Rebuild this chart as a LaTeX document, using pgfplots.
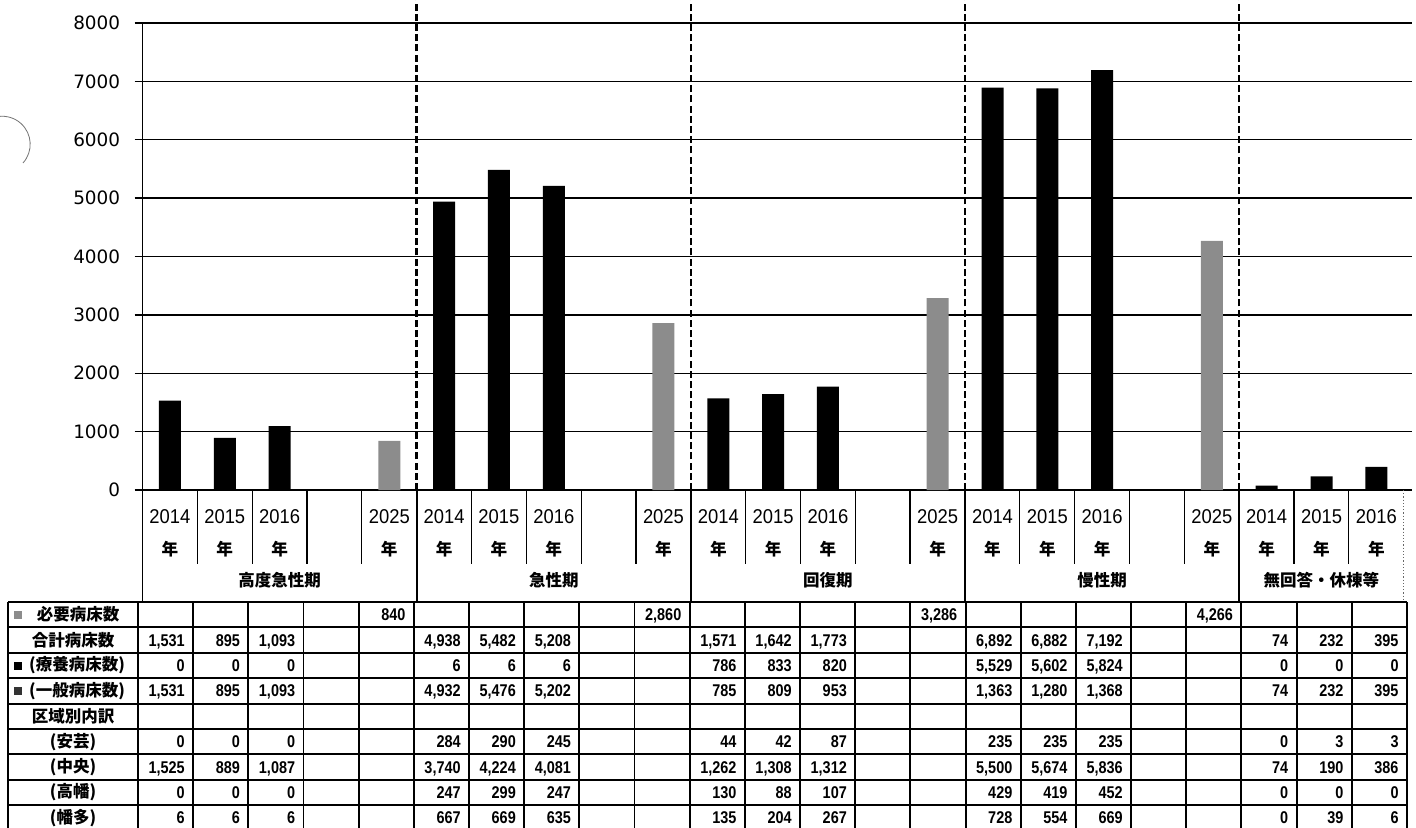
\documentclass[border=0pt]{standalone}
\usepackage{pgfplots}
\pgfplotsset{compat=1.18}
\usepackage{fontspec}
\setmainfont{DejaVu Sans}
\newfontfamily\jp{Noto Sans CJK JP}
\newfontfamily\numf[FakeStretch=0.85]{Liberation Sans}
\newfontfamily\yearf[FakeStretch=0.92]{Liberation Sans}

\newcommand\nen{{\jp\bfseries\fontsize{8.3}{16}\selectfont 年}}
\newcommand\jpfont{\jp\bfseries\fontsize{8.25}{10}\selectfont}
\newcommand\tabfont{\numf\bfseries\fontsize{8.5}{10}\selectfont}

% one row of the table: #1 = row index, #2 = the 23 cell values
\newcommand\tabrow[2]{%
  \foreach \v [count=\i from 1] in {#2} {%
    \node[anchor=base east, inner sep=0pt, font=\tabfont]
      at ({138+55.17*\i-8}, {602+25.4*#1+12.7+6}) {\v};
  }%
}

\begin{document}
\begin{tikzpicture}
\begin{axis}[
  at={(71.25pt,-245pt)}, anchor=south west,
  scale only axis, width=634.75pt, height=233.5pt,
  xmin=-0.5, xmax=22.65, ymin=0, ymax=8000,
  axis x line=bottom, axis y line=left,
  axis line style={-},
  x axis line style={line width=1pt},
  y axis line style={line width=0.5pt},
  ytick={0,1000,...,8000},
  scaled y ticks=false,
  /pgf/number format/1000 sep={},
  /pgf/number format/assume math mode=true,
  yticklabel style={font=\fontsize{9.2}{10}\selectfont, inner sep=0pt, xshift=-7pt},
  tick align=outside, major tick length=4pt,
  ytick style={black, line width=0.65pt},
  ymajorgrids, grid style={black, line width=0.65pt},
  xtick={0,...,22},
  xtick style={draw=none},
  xticklabels={{2014\\\nen},{2015\\\nen},{2016\\\nen},{},{2025\\\nen},
               {2014\\\nen},{2015\\\nen},{2016\\\nen},{},{2025\\\nen},
               {2014\\\nen},{2015\\\nen},{2016\\\nen},{},{2025\\\nen},
               {2014\\\nen},{2015\\\nen},{2016\\\nen},{},{2025\\\nen},
               {2014\\\nen},{2015\\\nen},{2016\\\nen}},
  xticklabel style={font=\yearf\fontsize{10}{16}\selectfont, align=center,
                    anchor=north, inner sep=0pt, yshift=-5.5pt},
  clip=false,
]
% 合計病床数 (2014-2016)
\addplot[ybar, bar width=11pt, bar shift=0pt, fill=black, draw=none]
  coordinates {(0,1531) (1,895) (2,1093)
               (5,4938) (6,5482) (7,5208)
               (10,1571) (11,1642) (12,1773)
               (15,6892) (16,6882) (17,7192)
               (20,74) (21,232) (22,395)};
% 必要病床数 (2025)
\addplot[ybar, bar width=11pt, bar shift=0pt, fill=black!45, draw=none]
  coordinates {(4,840) (9,2860) (14,3286) (19,4266)};
% dashed separators between the bed-function groups
\foreach \s in {4.5,9.5,14.5,19.5} {
  \edef\tmp{\noexpand\draw[black, line width=1.2pt, dash pattern=on 3.5pt off 1.6pt]
    (axis cs:\s,0) -- (axis cs:\s,8500);}\tmp
}
\end{axis}

\begin{scope}[x=0.5pt, y=-0.5pt]
% category header: year cells and group boxes
\foreach \k in {1,2,3,4,6,7,8,9,11,12,13,14,16,17,18,19,21,22}
  \draw[black, line width=0.65pt] ({142.5+54.83*\k},490) -- ({142.5+54.83*\k},564);
\foreach \k in {0,5,10,15,20}
  \draw[black, line width=0.9pt] ({142.5+54.83*\k},490) -- ({142.5+54.83*\k},602);
\draw[black!60, line width=0.6pt, densely dotted] (1403.6,490) -- (1403.6,602);
\node[font=\jpfont] at (279.6,580) {高度急性期};
\node[font=\jpfont] at (553.8,580) {急性期};
\node[font=\jpfont] at (827.9,580) {回復期};
\node[font=\jpfont] at (1102.1,580) {慢性期};
\node[font=\jpfont] at (1321.4,580) {無回答・休棟等};

% data table grid
\foreach \j in {0,...,9}
  \draw[black, line width=0.95pt] (8,{602+25.4*\j}) -- (1407,{602+25.4*\j});
\draw[black, line width=0.95pt] (8,602) -- (8,840);
\foreach \k in {0,...,23}
  \draw[black, line width=0.95pt] ({138+55.17*\k},602) -- ({138+55.17*\k},840);

% row headers
\fill[black!45] (14,611) rectangle (22,619);
\fill[black] (14,662) rectangle (22,670);
\fill[black!80] (14,687) rectangle (22,695);
\node[font=\jpfont] at (78,614.7) {必要病床数};
\node[font=\jpfont] at (73,640.1) {合計病床数};
\node[font=\jpfont] at (77,665.5) {(療養病床数)};
\node[font=\jpfont] at (77,690.9) {(一般病床数)};
\node[font=\jpfont] at (73,716.3) {区域別内訳};
\node[font=\jpfont] at (73,741.7) {(安芸)};
\node[font=\jpfont] at (73,767.1) {(中央)};
\node[font=\jpfont] at (73,792.5) {(高幡)};
\node[font=\jpfont] at (73,817.9) {(幡多)};

% table values
\tabrow{0}{{},{},{},{},840,{},{},{},{},{2,860},{},{},{},{},{3,286},{},{},{},{},{4,266},{},{},{}}
\tabrow{1}{{1,531},895,{1,093},{},{},{4,938},{5,482},{5,208},{},{},{1,571},{1,642},{1,773},{},{},{6,892},{6,882},{7,192},{},{},74,232,395}
\tabrow{2}{0,0,0,{},{},6,6,6,{},{},786,833,820,{},{},{5,529},{5,602},{5,824},{},{},0,0,0}
\tabrow{3}{{1,531},895,{1,093},{},{},{4,932},{5,476},{5,202},{},{},785,809,953,{},{},{1,363},{1,280},{1,368},{},{},74,232,395}
\tabrow{5}{0,0,0,{},{},284,290,245,{},{},44,42,87,{},{},235,235,235,{},{},0,3,3}
\tabrow{6}{{1,525},889,{1,087},{},{},{3,740},{4,224},{4,081},{},{},{1,262},{1,308},{1,312},{},{},{5,500},{5,674},{5,836},{},{},74,190,386}
\tabrow{7}{0,0,0,{},{},247,299,247,{},{},130,88,107,{},{},429,419,452,{},{},0,0,0}
\tabrow{8}{6,6,6,{},{},667,669,635,{},{},135,204,267,{},{},728,554,669,{},{},0,39,6}

% punch-hole trace at the left margin
\draw[black!55, line width=0.4pt] (23,163) arc[start angle=42, end angle=-98, radius=28];

\pgfresetboundingbox
\path[use as bounding box] (0,0) rectangle (1416,828);
\end{scope}
\end{tikzpicture}
\end{document}
